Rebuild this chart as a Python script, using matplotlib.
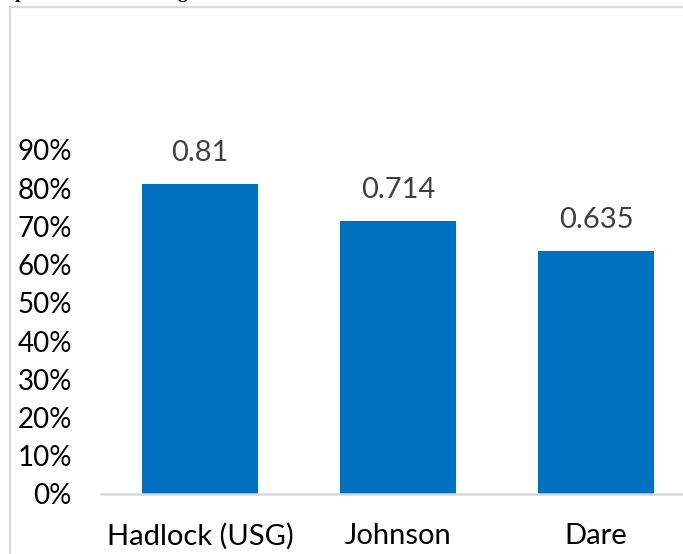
import matplotlib.pyplot as plt
from matplotlib.patches import Rectangle
from matplotlib.ticker import PercentFormatter

categories = ['Hadlock (USG)', 'Johnson', 'Dare']
values = [0.81, 0.714, 0.635]
value_labels = ['0.81', '0.714', '0.635']
yticks = [0, 0.1, 0.2, 0.3, 0.4, 0.5, 0.6, 0.7, 0.8, 0.9]

W, H = 683, 554
fig = plt.figure(figsize=(W / 100, H / 100), dpi=100)
plt.rcParams['font.family'] = ['Lato', 'DejaVu Sans']

# chart frame (cut by the page edges)
fig.patches.append(Rectangle((10 / W, -0.1), 1.2, 1 - 7 / H + 0.1,
                             transform=fig.transFigure, fill=False,
                             edgecolor='#d9d9d9', linewidth=1.6))

# bits of the heading above, cut off by the crop
for x, s in [(15, 'p'), (178, 'g')]:
    fig.text(x / W, 1 + 1.5 / H, s, family='Liberation Serif', weight='bold',
             fontsize=14, va='baseline', ha='left')

ax = fig.add_axes([101 / W, 1 - 494 / H, 594 / W, 344 / H])
x = range(len(categories))
bars = ax.bar(x, values, width=0.59, color='#0070C0', zorder=2)
ax.set_xlim(-0.5, 2.5)
ax.set_ylim(0, 0.9)
ax.set_yticks(yticks)
ax.yaxis.set_major_formatter(PercentFormatter(1.0, decimals=0))
ax.set_xticks(list(x))
ax.set_xticklabels(categories)

for s in ['top', 'right', 'left']:
    ax.spines[s].set_visible(False)
ax.spines['bottom'].set_color('#d9d9d9')
ax.spines['bottom'].set_linewidth(1.8)
ax.tick_params(axis='both', length=0, colors='black')
ax.tick_params(axis='y', pad=21, labelsize=20)
ax.tick_params(axis='x', pad=21, labelsize=21)

for b, lab in zip(bars, value_labels):
    ax.annotate(lab, (b.get_x() + b.get_width() / 2, b.get_height()),
                xytext=(0, 13), textcoords='offset points',
                ha='center', va='bottom', fontsize=21, color='#404040')

fig.savefig('out.png', dpi=100)
